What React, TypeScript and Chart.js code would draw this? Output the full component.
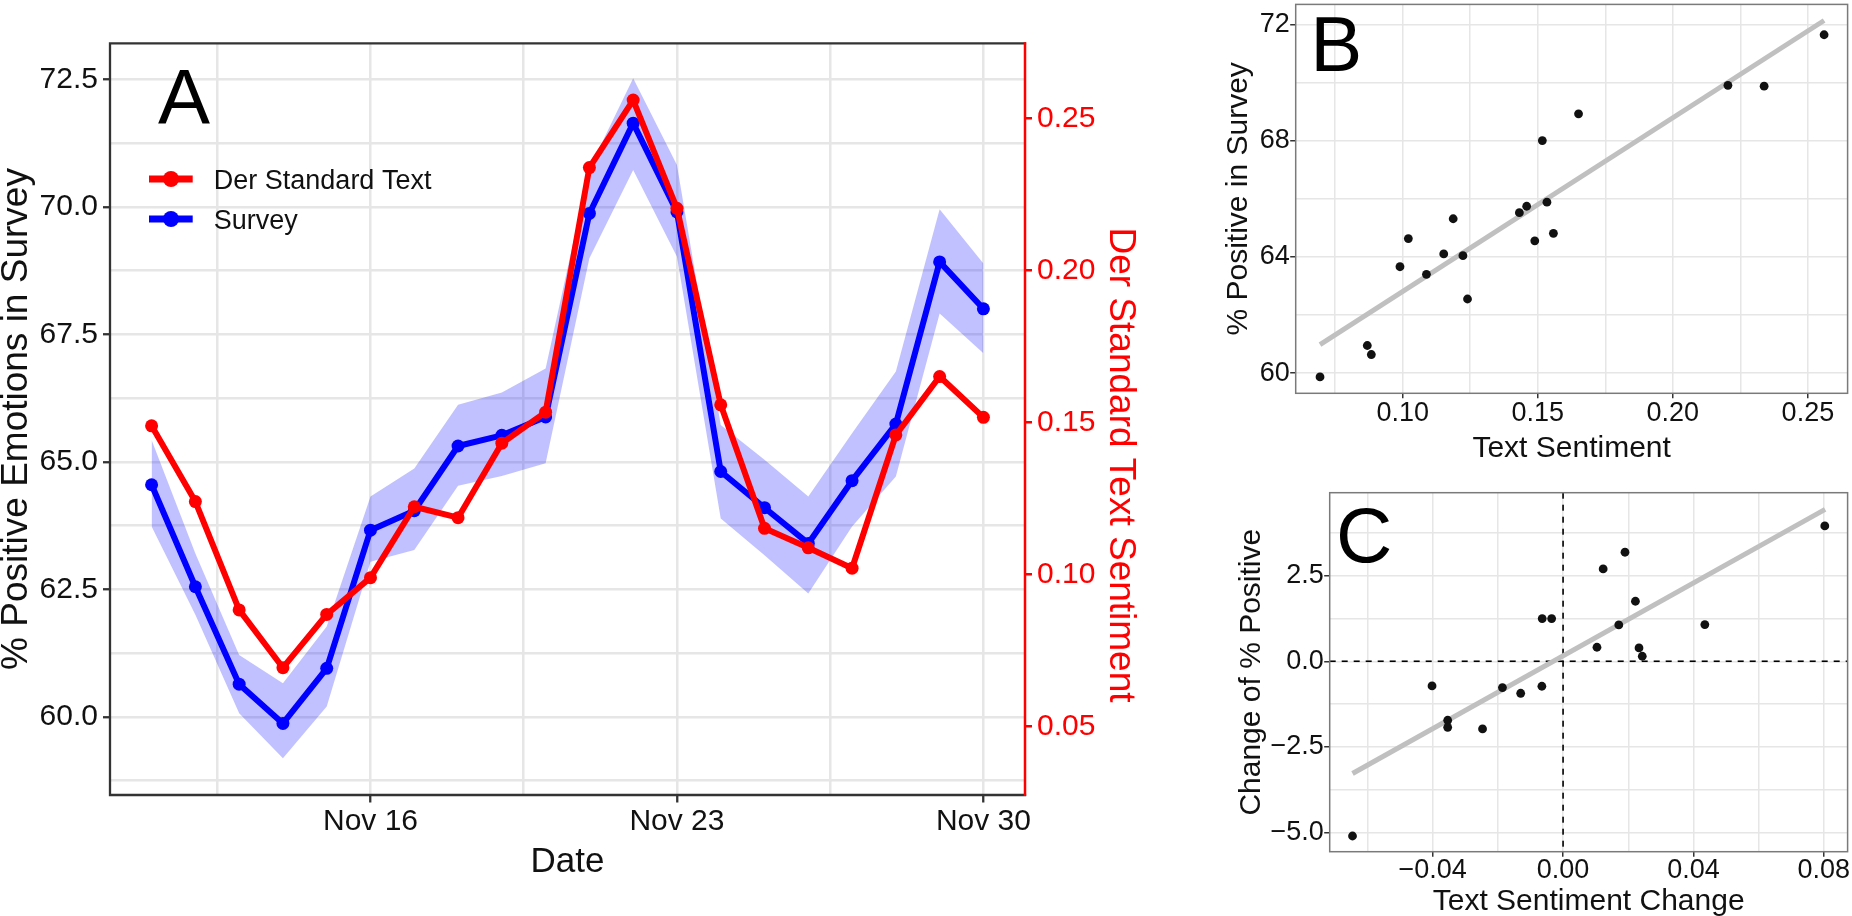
import React, { useEffect, useRef } from "react";
import { Chart, registerables } from "chart.js";

Chart.register(...registerables);

const FONT_FAMILY = "'Liberation Sans', Arimo, Arial, sans-serif";
const RED = "#FF0000";
const BLUE = "#0000FF";
const RIBBON = "rgba(0, 0, 255, 0.245)";
const INK = "#111111";
const GRID = "#E6E6E6";
const FRAME = "#333333";
const FIT = "#C0C0C0";

// ---------- Panel A data ----------
const monthName = "Nov";
const dayOfMonth = [11, 12, 13, 14, 15, 16, 17, 18, 19, 20, 21, 22, 23, 24, 25, 26, 27, 28, 29, 30];
const surveyPct = [64.55, 62.55, 60.64, 59.87, 60.95, 63.66, 64.04, 65.31, 65.52, 65.88, 69.87, 71.64, 69.9, 64.81, 64.1, 63.4, 64.63, 65.74, 68.92, 68.0];
const surveyUpper = [65.43, 63.2, 61.21, 60.66, 61.77, 64.32, 64.87, 66.12, 66.36, 66.83, 70.75, 72.52, 70.82, 65.72, 65.04, 64.32, 65.56, 66.77, 69.95, 68.89];
const surveyLower = [63.73, 62.0, 60.07, 59.19, 60.2, 63.04, 63.27, 64.53, 64.72, 64.97, 68.99, 70.72, 69.02, 63.89, 63.17, 62.42, 63.73, 64.71, 67.91, 67.13];
const textSentiment = [0.1489, 0.124, 0.0884, 0.0694, 0.0869, 0.099, 0.1223, 0.1187, 0.1432, 0.1534, 0.2338, 0.256, 0.2204, 0.1558, 0.1152, 0.1088, 0.1021, 0.1459, 0.1651, 0.1517];
const seriesNames = ["Der Standard Text", "Survey"];

const dateTickMajor = [16, 23, 30];
const dateTickMinor = [12.5, 19.5, 26.5];
const dateTickLabels = dateTickMajor.map((d) => `${monthName} ${d}`);
const leftTickMajor = [60, 62.5, 65, 67.5, 70, 72.5];
const leftTickMinor = [58.75, 61.25, 63.75, 66.25, 68.75, 71.25];
const leftTickLabels = ["60.0", "62.5", "65.0", "67.5", "70.0", "72.5"];
const rightTickMajor = [0.05, 0.1, 0.15, 0.2, 0.25];
const rightTickLabels = ["0.05", "0.10", "0.15", "0.20", "0.25"];

// ---------- Panel B data ----------
const bTickXMajor = [0.1, 0.15, 0.2, 0.25];
const bTickXMinor = [0.075, 0.125, 0.175, 0.225];
const bTickXLabels = ["0.10", "0.15", "0.20", "0.25"];
const bTickYMajor = [60, 64, 68, 72];
const bTickYMinor = [62, 66, 70];
const bTickYLabels = ["60", "64", "68", "72"];
const fitBX = [0.0694, 0.256];
const fitBY = [60.98, 72.13];

// ---------- Panel C data ----------
const sentimentChange = [-0.0402, -0.0354, -0.0354, -0.0247, -0.0186, -0.013, -0.0065, -0.0064, -0.0035, 0.0104, 0.0123, 0.0171, 0.019, 0.0222, 0.0233, 0.0243, 0.0435, 0.0803, -0.0646];
const positiveChange = [-0.722, -1.725, -1.93, -1.979, -0.77, -0.936, -0.731, 1.248, 1.248, 0.409, 2.7, 1.063, 3.187, 1.754, 0.39, 0.146, 1.072, 3.957, -5.108];
const cTickXMajor = [-0.04, 0, 0.04, 0.08];
const cTickXMinor = [-0.06, -0.02, 0.02, 0.06];
const cTickXLabels = ["\u22120.04", "0.00", "0.04", "0.08"];
const cTickYMajor = [-5, -2.5, 0, 2.5];
const cTickYMinor = [-3.75, -1.25, 1.25, 3.75];
const cTickYLabels = ["\u22125.0", "\u22122.5", "0.0", "2.5"];
const fitCX = [-0.0646, 0.0804];
const fitCY = [-3.28, 4.44];
const refLineX = [0];
const refLineY = [0];

const near = (a: number, b: number) => Math.abs(a - b) < 1e-9;

type AxisSpec = {
  position: "left" | "right" | "bottom";
  min: number;
  max: number;
  major: number[];
  minor: number[];
  labels: string[];
  size: number;
  fontSize: number;
  color: string;
  padding: number;
  drawGrid: boolean;
  gridWidth: number;
  tickLength: number;
  tickWidth: number;
  tickColor: string;
};

function axis(p: AxisSpec): any {
  const all = [...p.major, ...p.minor].sort((a, b) => a - b);
  const isMajor = (v: number) => p.major.some((m) => near(m, v));
  return {
    type: "linear",
    position: p.position,
    min: p.min,
    max: p.max,
    afterBuildTicks: (scale: any) => {
      scale.ticks = all.map((v) => ({ value: v }));
    },
    afterFit: (scale: any) => {
      if (p.position === "bottom") scale.height = p.size;
      else scale.width = p.size;
      scale.paddingLeft = 0;
      scale.paddingRight = 0;
      scale.paddingTop = 0;
      scale.paddingBottom = 0;
    },
    border: { display: false },
    grid: {
      display: true,
      drawOnChartArea: p.drawGrid,
      color: GRID,
      lineWidth: p.gridWidth,
      drawTicks: true,
      tickLength: p.tickLength,
      tickWidth: p.tickWidth,
      tickColor: (ctx: any) => (ctx.tick && isMajor(ctx.tick.value) ? p.tickColor : "rgba(0,0,0,0)"),
    },
    ticks: {
      autoSkip: false,
      maxRotation: 0,
      minRotation: 0,
      padding: p.padding,
      color: p.color,
      font: { family: FONT_FAMILY, size: p.fontSize, lineHeight: 1 },
      callback: (value: any) => {
        const i = p.major.findIndex((m) => near(m, Number(value)));
        return i >= 0 ? p.labels[i] : "";
      },
    },
  };
}

function drawText(
  ctx: CanvasRenderingContext2D,
  text: string,
  x: number,
  y: number,
  size: number,
  color: string = INK,
  rotate = 0,
  align: CanvasTextAlign = "center"
) {
  ctx.save();
  ctx.translate(x, y);
  if (rotate) ctx.rotate(rotate);
  ctx.font = `${size}px ${FONT_FAMILY}`;
  ctx.fillStyle = color;
  ctx.textAlign = align;
  ctx.textBaseline = "alphabetic";
  ctx.fillText(text, 0, 0);
  ctx.restore();
}

// canvas placements (page px)
const A_BOX = { left: 0, top: 0, width: 1150, height: 916 };
const B_BOX = { left: 1150, top: 0, width: 702, height: 460 };
const C_BOX = { left: 1150, top: 460, width: 702, height: 456 };

function buildA(canvas: HTMLCanvasElement) {
  const ox = A_BOX.left;
  const oy = A_BOX.top;
  const overlay = {
    id: "overlayA",
    afterDraw(chart: any) {
      const ctx: CanvasRenderingContext2D = chart.ctx;
      const a = chart.chartArea;
      ctx.save();
      ctx.lineCap = "square";
      ctx.strokeStyle = FRAME;
      ctx.lineWidth = 2.3;
      ctx.beginPath();
      ctx.moveTo(a.right, a.top);
      ctx.lineTo(a.left, a.top);
      ctx.lineTo(a.left, a.bottom);
      ctx.lineTo(a.right, a.bottom);
      ctx.stroke();
      ctx.strokeStyle = RED;
      ctx.lineWidth = 2.5;
      ctx.lineCap = "butt";
      ctx.beginPath();
      ctx.moveTo(a.right, a.top - 1);
      ctx.lineTo(a.right, a.bottom + 1);
      ctx.stroke();

      // legend
      const colors = [RED, BLUE];
      const keyY = [179, 219];
      seriesNames.forEach((name, i) => {
        const y = keyY[i] - oy;
        ctx.strokeStyle = colors[i];
        ctx.lineWidth = 7;
        ctx.lineCap = "butt";
        ctx.beginPath();
        ctx.moveTo(149 - ox, y);
        ctx.lineTo(192.7 - ox, y);
        ctx.stroke();
        ctx.fillStyle = colors[i];
        ctx.beginPath();
        ctx.arc(171 - ox, y, 8, 0, Math.PI * 2);
        ctx.fill();
        drawText(ctx, name, 213.8 - ox, y + 9.5, 27, INK, 0, "left");
      });

      // axis titles
      drawText(ctx, "% Positive Emotions in Survey", 26.7 - ox, 419 - oy, 37, INK, -Math.PI / 2);
      drawText(ctx, "Der Standard Text Sentiment", 1110 - ox, 465 - oy, 37, RED, Math.PI / 2);
      drawText(ctx, "Date", 567.5 - ox, 871.7 - oy, 35, INK);
      // panel letter
      drawText(ctx, "A", 158 - ox, 124 - oy, 78, "#000000", 0, "left");
      ctx.restore();
    },
  };

  const pts = (ys: number[]) => dayOfMonth.map((d, i) => ({ x: d, y: ys[i] }));

  return new Chart(canvas, {
    type: "line",
    data: {
      datasets: [
        {
          label: seriesNames[0],
          data: pts(textSentiment),
          yAxisID: "y2",
          borderColor: RED,
          backgroundColor: RED,
          pointBackgroundColor: RED,
          pointBorderWidth: 0,
          pointRadius: 6.5,
          borderWidth: 6,
          borderJoinStyle: "round",
          tension: 0,
          fill: false,
        },
        {
          label: seriesNames[1],
          data: pts(surveyPct),
          yAxisID: "y",
          borderColor: BLUE,
          backgroundColor: BLUE,
          pointBackgroundColor: BLUE,
          pointBorderWidth: 0,
          pointRadius: 6.5,
          borderWidth: 6,
          borderJoinStyle: "round",
          tension: 0,
          fill: false,
        },
        {
          label: "upper",
          data: pts(surveyUpper),
          yAxisID: "y",
          borderColor: "rgba(0,0,0,0)",
          borderWidth: 0,
          pointRadius: 0,
          backgroundColor: RIBBON,
          fill: "+1",
          tension: 0,
        },
        {
          label: "lower",
          data: pts(surveyLower),
          yAxisID: "y",
          borderColor: "rgba(0,0,0,0)",
          borderWidth: 0,
          pointRadius: 0,
          backgroundColor: RIBBON,
          fill: false,
          tension: 0,
        },
      ],
    } as any,
    options: {
      animation: false,
      responsive: false,
      maintainAspectRatio: false,
      events: [],
      layout: { padding: { top: 43.3, left: 0, right: 0, bottom: 0 } },
      plugins: { legend: { display: false }, tooltip: { enabled: false } },
      scales: {
        x: axis({
          position: "bottom", min: 10.05, max: 30.95,
          major: dateTickMajor, minor: dateTickMinor, labels: dateTickLabels,
          size: 121, fontSize: 30, color: INK, padding: 4,
          drawGrid: true, gridWidth: 2.5, tickLength: 7.5, tickWidth: 2.3, tickColor: FRAME,
        }),
        y: axis({
          position: "left", min: 58.467, max: 73.206,
          major: leftTickMajor, minor: leftTickMinor, labels: leftTickLabels,
          size: 110, fontSize: 30, color: INK, padding: 5,
          drawGrid: true, gridWidth: 2.5, tickLength: 7, tickWidth: 2.3, tickColor: FRAME,
        }),
        y2: axis({
          position: "right", min: 0.02755, max: 0.27465,
          major: rightTickMajor, minor: [], labels: rightTickLabels,
          size: A_BOX.width - 1025, fontSize: 30, color: RED, padding: 5,
          drawGrid: false, gridWidth: 2.5, tickLength: 7, tickWidth: 2.5, tickColor: RED,
        }),
      },
    } as any,
    plugins: [overlay],
  });
}

function buildScatter(
  canvas: HTMLCanvasElement,
  box: { left: number; top: number; width: number; height: number },
  area: { left: number; top: number; right: number; bottom: number },
  xs: number[],
  ys: number[],
  fitX: number[],
  fitY: number[],
  xr: [number, number],
  yr: [number, number],
  xt: { major: number[]; minor: number[]; labels: string[] },
  yt: { major: number[]; minor: number[]; labels: string[] },
  texts: { letter: string; lx: number; ly: number; xTitle: string; xtY: number; yTitle: string; ytX: number },
  xTickPad: number,
  refLines: boolean
) {
  const ox = box.left;
  const oy = box.top;
  const overlay = {
    id: "overlay" + texts.letter,
    beforeDatasetsDraw(chart: any) {
      if (!refLines) return;
      const ctx: CanvasRenderingContext2D = chart.ctx;
      const a = chart.chartArea;
      ctx.save();
      ctx.strokeStyle = "#000000";
      ctx.lineWidth = 1.6;
      ctx.setLineDash([6, 6]);
      refLineX.forEach((v) => {
        const px = chart.scales.x.getPixelForValue(v);
        ctx.beginPath();
        ctx.moveTo(px, a.top);
        ctx.lineTo(px, a.bottom);
        ctx.stroke();
      });
      refLineY.forEach((v) => {
        const py = chart.scales.y.getPixelForValue(v);
        ctx.beginPath();
        ctx.moveTo(a.left, py);
        ctx.lineTo(a.right, py);
        ctx.stroke();
      });
      ctx.restore();
    },
    afterDraw(chart: any) {
      const ctx: CanvasRenderingContext2D = chart.ctx;
      const a = chart.chartArea;
      ctx.save();
      ctx.strokeStyle = "#7A7A7A";
      ctx.lineWidth = 1.5;
      ctx.strokeRect(a.left, a.top, a.right - a.left, a.bottom - a.top);
      const cx = (a.left + a.right) / 2;
      const cy = (a.top + a.bottom) / 2;
      drawText(ctx, texts.xTitle, cx, texts.xtY - oy, 30, INK);
      drawText(ctx, texts.yTitle, texts.ytX - ox, cy, 30, INK, -Math.PI / 2);
      drawText(ctx, texts.letter, texts.lx - ox, texts.ly - oy, 78, "#000000", 0, "left");
      ctx.restore();
    },
  };

  return new Chart(canvas, {
    type: "scatter",
    data: {
      datasets: [
        {
          label: "points",
          data: xs.map((x, i) => ({ x, y: ys[i] })),
          backgroundColor: INK,
          borderWidth: 0,
          pointRadius: 4.4,
        },
        {
          label: "fit",
          data: fitX.map((x, i) => ({ x, y: fitY[i] })),
          showLine: true,
          borderColor: FIT,
          borderWidth: 5,
          borderCapStyle: "butt",
          pointRadius: 0,
          backgroundColor: FIT,
        },
      ],
    } as any,
    options: {
      animation: false,
      responsive: false,
      maintainAspectRatio: false,
      events: [],
      layout: {
        padding: { top: area.top - oy, left: 0, right: box.left + box.width - area.right, bottom: 0 },
      },
      plugins: { legend: { display: false }, tooltip: { enabled: false } },
      scales: {
        x: axis({
          position: "bottom", min: xr[0], max: xr[1],
          major: xt.major, minor: xt.minor, labels: xt.labels,
          size: oy + box.height - area.bottom, fontSize: 27, color: INK, padding: xTickPad,
          drawGrid: true, gridWidth: 1.5, tickLength: 5, tickWidth: 1.5, tickColor: FRAME,
        }),
        y: axis({
          position: "left", min: yr[0], max: yr[1],
          major: yt.major, minor: yt.minor, labels: yt.labels,
          size: area.left - ox, fontSize: 27, color: INK, padding: 0.5,
          drawGrid: true, gridWidth: 1.5, tickLength: 5.5, tickWidth: 1.5, tickColor: FRAME,
        }),
      },
    } as any,
    plugins: [overlay],
  });
}

export default function App() {
  const aRef = useRef<HTMLCanvasElement | null>(null);
  const bRef = useRef<HTMLCanvasElement | null>(null);
  const cRef = useRef<HTMLCanvasElement | null>(null);

  useEffect(() => {
    const charts: Chart[] = [];
    if (aRef.current) charts.push(buildA(aRef.current));
    if (bRef.current)
      charts.push(
        buildScatter(
          bRef.current, B_BOX,
          { left: 1295.7, top: 2.3, right: 1850.7, bottom: 393.3 },
          textSentiment, surveyPct, fitBX, fitBY,
          [0.0604, 0.2647], [59.306, 72.684],
          { major: bTickXMajor, minor: bTickXMinor, labels: bTickXLabels },
          { major: bTickYMajor, minor: bTickYMinor, labels: bTickYLabels },
          { letter: "B", lx: 1310.3, ly: 70.7, xTitle: "Text Sentiment", xtY: 456.7, yTitle: "% Positive in Survey", ytX: 1246.5 },
          2,
          false
        )
      );
    if (cRef.current)
      charts.push(
        buildScatter(
          cRef.current, C_BOX,
          { left: 1329.7, top: 492.7, right: 1850.7, bottom: 851.7 },
          sentimentChange, positiveChange, fitCX, fitCY,
          [-0.0716, 0.0873], [-5.567, 4.927],
          { major: cTickXMajor, minor: cTickXMinor, labels: cTickXLabels },
          { major: cTickYMajor, minor: cTickYMinor, labels: cTickYLabels },
          { letter: "C", lx: 1336, ly: 562, xTitle: "Text Sentiment Change", xtY: 910, yTitle: "Change of % Positive", ytX: 1259.8 },
          0,
          true
        )
      );
    return () => charts.forEach((c) => c.destroy());
  }, []);

  const cs = (b: { left: number; top: number; width: number; height: number }): React.CSSProperties => ({
    position: "absolute",
    left: b.left,
    top: b.top,
    width: b.width,
    height: b.height,
  });

  return (
    <div style={{ position: "absolute", left: 0, top: 0, width: 1852, height: 916, background: "#ffffff", overflow: "hidden" }}>
      <canvas ref={aRef} width={A_BOX.width} height={A_BOX.height} style={cs(A_BOX)} />
      <canvas ref={bRef} width={B_BOX.width} height={B_BOX.height} style={cs(B_BOX)} />
      <canvas ref={cRef} width={C_BOX.width} height={C_BOX.height} style={cs(C_BOX)} />
    </div>
  );
}
